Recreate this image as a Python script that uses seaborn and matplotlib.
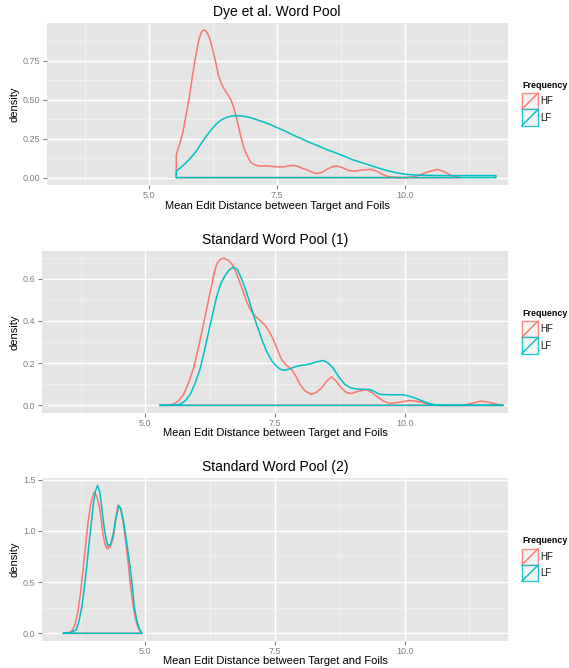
import numpy as np
import pandas as pd
import matplotlib
matplotlib.use("Agg")
import matplotlib.pyplot as plt
import seaborn as sns
from matplotlib.ticker import MultipleLocator, FormatStrFormatter
from matplotlib.patches import Rectangle
from matplotlib.lines import Line2D

# ---------------- data (density curves) ----------------
groups = ["HF", "LF"]
titles = ["Dye et al. Word Pool", "Standard Word Pool (1)", "Standard Word Pool (2)"]
x_label = "Mean Edit Distance between Target and Foils"
y_label = "density"
legend_title = "Frequency"

dye_hf_x = [5.53, 5.60, 5.655, 5.72, 5.786, 5.85, 5.916, 5.97, 6.01, 6.05, 6.08, 6.12, 6.175, 6.24,
            6.306, 6.35, 6.40, 6.45, 6.50, 6.55, 6.60, 6.65, 6.70, 6.75, 6.79, 6.85, 6.92, 6.98,
            7.05, 7.12, 7.18, 7.26, 7.345, 7.45, 7.54, 7.65, 7.75, 7.83, 7.92, 8.00, 8.06, 8.15,
            8.22, 8.29, 8.38, 8.48, 8.58, 8.68, 8.78, 8.90, 9.03, 9.18, 9.33, 9.45, 9.55, 9.68,
            9.85, 10.00, 10.15, 10.27, 10.45, 10.63, 10.78, 10.92, 11.10]
dye_hf_y = [0.148, 0.22, 0.285, 0.40, 0.518, 0.66, 0.793, 0.88, 0.925, 0.943, 0.945, 0.935, 0.90, 0.82,
            0.73, 0.66, 0.61, 0.575, 0.55, 0.525, 0.495, 0.45, 0.39, 0.32, 0.264, 0.19, 0.137, 0.10,
            0.084, 0.076, 0.074, 0.075, 0.074, 0.070, 0.068, 0.070, 0.076, 0.078, 0.070, 0.058, 0.053, 0.040,
            0.030, 0.027, 0.035, 0.055, 0.070, 0.074, 0.063, 0.045, 0.042, 0.050, 0.053, 0.040, 0.022, 0.005,
            0.001, 0.0, 0.005, 0.015, 0.038, 0.053, 0.035, 0.010, 0.0]
dye_lf_x = [5.53, 5.60, 5.72, 5.82, 5.92, 6.01, 6.11, 6.21, 6.31, 6.40, 6.50, 6.62, 6.76, 6.90, 7.02,
            7.18, 7.345, 7.50, 7.67, 7.83, 7.99, 8.15, 8.32, 8.48, 8.645, 8.80, 8.97, 9.16, 9.36, 9.52,
            9.68, 9.85, 10.01, 10.17, 10.33, 10.55, 10.79, 11.10, 11.45, 11.77]
dye_lf_y = [0.042, 0.060, 0.095, 0.130, 0.169, 0.215, 0.264, 0.305, 0.343, 0.368, 0.385, 0.395, 0.397, 0.390, 0.380,
            0.362, 0.343, 0.320, 0.296, 0.270, 0.247, 0.223, 0.200, 0.178, 0.158, 0.138, 0.115, 0.095, 0.074, 0.057,
            0.042, 0.030, 0.021, 0.017, 0.015, 0.014, 0.013, 0.013, 0.013, 0.013]

std1_hf_x = [5.275, 5.45, 5.545, 5.64, 5.737, 5.83, 5.93, 6.01, 6.09, 6.17, 6.25, 6.32, 6.38, 6.45, 6.52,
             6.60, 6.67, 6.75, 6.83, 6.90, 6.956, 7.03, 7.115, 7.21, 7.31, 7.40, 7.47, 7.55, 7.63, 7.72,
             7.82, 7.90, 7.98, 8.08, 8.20, 8.30, 8.40, 8.50, 8.59, 8.68, 8.78, 8.87, 8.97, 9.10, 9.26,
             9.36, 9.456, 9.58, 9.71, 9.90, 10.10, 10.22, 10.35, 10.48, 10.61, 10.90, 11.12, 11.30, 11.47,
             11.65, 11.80, 11.90]
std1_hf_y = [0.0, 0.002, 0.006, 0.022, 0.052, 0.105, 0.177, 0.26, 0.349, 0.445, 0.537, 0.62, 0.672, 0.694, 0.697,
             0.688, 0.67, 0.63, 0.577, 0.53, 0.49, 0.452, 0.424, 0.403, 0.38, 0.345, 0.31, 0.262, 0.216, 0.19,
             0.17, 0.14, 0.10, 0.068, 0.052, 0.062, 0.083, 0.115, 0.135, 0.115, 0.083, 0.062, 0.056, 0.066, 0.075,
             0.062, 0.044, 0.022, 0.009, 0.015, 0.023, 0.020, 0.013, 0.005, 0.0, 0.0, 0.0, 0.010, 0.020,
             0.013, 0.005, 0.0]
std1_lf_x = [5.275, 5.50, 5.67, 5.77, 5.865, 5.96, 6.06, 6.14, 6.22, 6.30, 6.38, 6.46, 6.54, 6.62, 6.70,
             6.77, 6.83, 6.91, 6.99, 7.07, 7.15, 7.25, 7.34, 7.44, 7.53, 7.61, 7.69, 7.80, 7.92, 8.02,
             8.11, 8.20, 8.30, 8.43, 8.53, 8.62, 8.73, 8.85, 8.96, 9.07, 9.20, 9.33, 9.43, 9.52, 9.75,
             9.97, 10.10, 10.22, 10.35, 10.48, 10.60, 10.70, 11.90]
std1_lf_y = [0.0, 0.0, 0.005, 0.022, 0.052, 0.105, 0.177, 0.26, 0.349, 0.435, 0.52, 0.58, 0.617, 0.643, 0.655,
             0.645, 0.615, 0.565, 0.506, 0.44, 0.38, 0.31, 0.255, 0.21, 0.185, 0.17, 0.166, 0.175, 0.185, 0.19,
             0.193, 0.198, 0.206, 0.213, 0.20, 0.177, 0.135, 0.099, 0.083, 0.078, 0.076, 0.075, 0.064, 0.052, 0.050,
             0.050, 0.043, 0.033, 0.020, 0.008, 0.002, 0.0, 0.0]

std2_hf_x = [3.415, 3.50, 3.577, 3.64, 3.70, 3.75, 3.80, 3.85, 3.896, 3.95, 4.006, 4.06, 4.12, 4.15, 4.18,
             4.22, 4.26, 4.32, 4.38, 4.42, 4.47, 4.52, 4.57, 4.62, 4.665, 4.71, 4.76, 4.81, 4.86, 4.92]
std2_hf_y = [0.0, 0.004, 0.02, 0.08, 0.214, 0.40, 0.635, 0.87, 1.09, 1.27, 1.375, 1.34, 1.22, 1.10, 0.97,
             0.87, 0.825, 0.84, 0.93, 1.08, 1.25, 1.22, 1.09, 0.90, 0.70, 0.48, 0.28, 0.14, 0.055, 0.0]
std2_lf_x = [3.415, 3.55, 3.67, 3.72, 3.77, 3.82, 3.865, 3.91, 3.96, 4.00, 4.04, 4.077, 4.12, 4.16, 4.198,
             4.24, 4.28, 4.33, 4.377, 4.43, 4.49, 4.53, 4.58, 4.64, 4.70, 4.75, 4.79, 4.84, 4.89, 4.94]
std2_lf_y = [0.0, 0.005, 0.036, 0.12, 0.247, 0.43, 0.635, 0.86, 1.09, 1.27, 1.39, 1.44, 1.38, 1.22, 1.056,
             0.92, 0.85, 0.87, 0.96, 1.12, 1.245, 1.21, 1.09, 0.88, 0.668, 0.45, 0.247, 0.11, 0.036, 0.0]

# ---------------- style ----------------
HF_C = "#F8766D"
LF_C = "#00BFC4"
W, H = 569, 668

sns.set_style("darkgrid")
plt.rcParams["font.family"] = ["Liberation Sans", "DejaVu Sans"]

fig = plt.figure(figsize=(W / 100, H / 100), dpi=100)
fig.patch.set_facecolor("white")

panels = [
    dict(title=titles[0], hf=(dye_hf_x, dye_hf_y), lf=(dye_lf_x, dye_lf_y),
         box=(46.7, 22.7, 507.7, 185.0), ymaj=0.25, yfmt="%.2f"),
    dict(title=titles[1], hf=(std1_hf_x, std1_hf_y), lf=(std1_lf_x, std1_lf_y),
         box=(41.7, 251.0, 508.3, 412.7), ymaj=0.2, yfmt="%.1f"),
    dict(title=titles[2], hf=(std2_hf_x, std2_hf_y), lf=(std2_lf_x, std2_lf_y),
         box=(41.7, 478.3, 508.3, 640.7), ymaj=0.5, yfmt="%.1f"),
]


def fx(x):
    return x / W


def fy(y):
    return 1 - y / H


for p in panels:
    l, t, r, b = p["box"]
    ax = fig.add_axes([fx(l), fy(b), (r - l) / W, (b - t) / H])
    ax.set_facecolor("#E5E5E5")
    for s in ax.spines.values():
        s.set_visible(False)

    frames = []
    for name, (xs, ys) in zip(groups, [p["hf"], p["lf"]]):
        xs = list(xs)
        ys = list(ys)
        path_x = [xs[0]] + xs + [xs[-1], xs[0]]
        path_y = [0.0] + ys + [0.0, 0.0]
        frames.append(pd.DataFrame({"x": path_x, "y": path_y, "Frequency": name}))
    df = pd.concat(frames, ignore_index=True)
    sns.lineplot(data=df, x="x", y="y", hue="Frequency", hue_order=groups,
                 palette={"HF": HF_C, "LF": LF_C}, sort=False, estimator=None,
                 legend=False, lw=1.1, ax=ax)

    ymax = max(max(p["hf"][1]), max(p["lf"][1]))
    ax.set_xlim(3.0, 12.0)
    ax.set_ylim(-0.05 * ymax, 1.05 * ymax)

    ax.xaxis.set_major_locator(MultipleLocator(2.5))
    ax.xaxis.set_minor_locator(MultipleLocator(1.25))
    ax.yaxis.set_major_locator(MultipleLocator(p["ymaj"]))
    ax.yaxis.set_minor_locator(MultipleLocator(p["ymaj"] / 2))
    ax.xaxis.set_major_formatter(FormatStrFormatter("%.1f"))
    ax.yaxis.set_major_formatter(FormatStrFormatter(p["yfmt"]))

    ax.set_axisbelow(True)
    ax.grid(True, which="major", color="white", lw=1.0)
    ax.grid(True, which="minor", color="#F2F2F2", lw=0.5)
    ax.tick_params(which="major", bottom=True, left=True, length=3, width=0.8,
                   color="#7F7F7F", labelcolor="#7F7F7F", labelsize=6.5, pad=1.5)
    ax.tick_params(which="minor", length=0)

    ph = b - t
    pw = r - l
    ax.set_xlabel(x_label, fontsize=8, color="black")
    ax.xaxis.set_label_coords(0.5, -20.7 / ph)
    ax.xaxis.label.set_va("center")
    ax.set_ylabel(y_label, fontsize=8, color="black")
    ax.yaxis.set_label_coords(-(l - 15) / pw, 0.5)
    ax.yaxis.label.set_va("center")

    ax.text(0.5, 1 + 10.8 / ph, p["title"], transform=ax.transAxes,
            ha="center", va="center", fontsize=10, color="black")

    # legend (drawn manually, ggplot style keys)
    cy = (t + b) / 2
    fig.text(fx(522.3), fy(cy - 18.8), legend_title, fontsize=6.4, fontweight="bold",
             ha="left", va="center", color="black")
    ks = 16.4
    for i, (name, c) in enumerate(zip(groups, [HF_C, LF_C])):
        ktop = cy - 10.85 + i * ks
        fig.patches.append(Rectangle((fx(521.7), fy(ktop + ks)), ks / W, ks / H,
                                     transform=fig.transFigure, facecolor="#F2F2F2",
                                     edgecolor=c, lw=1.0, alpha=0.85))
        fig.lines.append(Line2D([fx(521.7), fx(521.7 + ks)], [fy(ktop + ks), fy(ktop)],
                                transform=fig.transFigure, color=c, lw=1.0))
        fig.text(fx(540.5), fy(ktop + ks / 2), name, fontsize=7, ha="left",
                 va="center", color="#1A1A1A")

fig.savefig("out.png", dpi=100)
